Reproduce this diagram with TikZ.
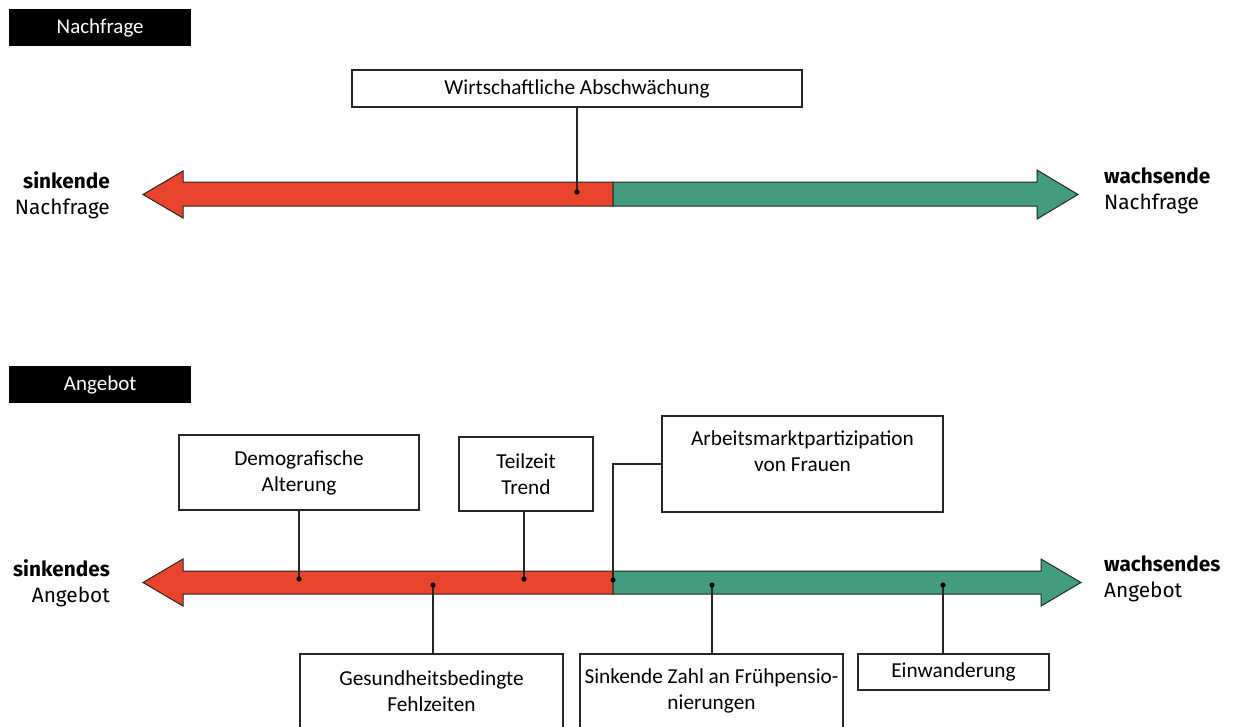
\documentclass[tikz,border=0pt]{standalone}
\usepackage{fontspec}
\setmainfont{Carlito}
\newfontfamily\sidefont{Fira Sans}
\definecolor{redA}{HTML}{E8452C}
\definecolor{greenA}{HTML}{439C7E}
\begin{document}
\begin{tikzpicture}[x=1pt,y=-1pt,
  box/.style={draw=black!85, line width=1.2pt, fill=white, align=center, inner sep=0pt,
    font=\fontsize{21.3}{26}\selectfont},
  hdr/.style={fill=black, text=white, inner sep=0pt, minimum width=182pt, minimum height=37pt,
    anchor=north west, font=\fontsize{21}{24}\selectfont},
  side/.style={inner sep=0pt, font=\sidefont\fontsize{20.8}{26}\selectfont},
  conn/.style={draw=black!85, line width=1.3pt},
  arr/.style={draw=black!85, line width=1pt, line join=miter},
  dotc/.style={fill=black}]
\useasboundingbox (0,0) rectangle (1236,726);

% headers
\node[hdr] (h1) at (9,9) {Nachfrage};
\node[hdr] (h2) at (9,366) {Angebot};

% ---- Nachfrage arrow
\filldraw[arr, fill=redA] (613,182) -- (183,182) -- (183,171) -- (143,194.5) -- (183,218) -- (183,206) -- (613,206) -- cycle;
\filldraw[arr, fill=greenA] (613,182) -- (1037,182) -- (1037,170) -- (1078,194.5) -- (1037,219) -- (1037,206) -- (613,206) -- cycle;

\node[side, anchor=east, align=right] (sl1) at (110,195) {\textbf{sinkende}\\Nachfrage};
\node[side, anchor=west, align=left] (sr1) at (1104,190.5) {\textbf{wachsende}\\Nachfrage};

\node[box, minimum width=450pt, minimum height=37pt] (w) at (577,88.5) {Wirtschaftliche Abschwächung};
\coordinate (d1) at (577,192);
\draw[conn] (w.south) -- (d1);
\fill[dotc] (d1) circle (2.6);

% ---- Angebot arrow
\filldraw[arr, fill=redA] (613,571) -- (183,571) -- (183,559) -- (143,582.5) -- (183,606) -- (183,594) -- (613,594) -- cycle;
\filldraw[arr, fill=greenA] (613,571) -- (1041,571) -- (1041,559) -- (1081,582.5) -- (1041,606) -- (1041,594) -- (613,594) -- cycle;

\node[side, anchor=east, align=right] (sl2) at (110,583) {\textbf{sinkendes}\\Angebot};
\node[side, anchor=west, align=left] (sr2) at (1104,579) {\textbf{wachsendes}\\Angebot};

% boxes above
\node[box, minimum width=240pt, minimum height=75pt] (demo) at (299,472.5) {Demografische\\Alterung};
\node[box, minimum width=134pt, minimum height=74pt] (teil) at (526,474) {Teilzeit\\Trend};
\node[box, minimum width=281pt, minimum height=96pt] (arb) at (802.5,464) {};
\node[inner sep=0pt, align=center, font=\fontsize{21.3}{26}\selectfont] (arbt) at (802.5,451) {Arbeitsmarktpartizipation\\von Frauen};

% boxes below
\node[box, minimum width=263pt, minimum height=74pt] (ges) at (431.5,691) {Gesundheitsbedingte\\Fehlzeiten};
\node[box, minimum width=263pt, minimum height=74pt] (fru) at (711.5,691) {Sinkende Zahl an Frühpensio-\\nierungen};
\node[box, minimum width=191pt, minimum height=36pt] (ein) at (953.5,672) {Einwanderung};

% dots
\coordinate (d2) at (299,579);
\coordinate (d3) at (524,579);
\coordinate (d4) at (613,580);
\coordinate (d5) at (433,585);
\coordinate (d6) at (712,585);
\coordinate (d7) at (943,585);

\draw[conn] (demo.south) -- (d2);
\draw[conn] (teil.south -| d3) -- (d3);
\draw[conn] (arb.west) -| (d4);
\draw[conn] (ges.north -| d5) -- (d5);
\draw[conn] (fru.north -| d6) -- (d6);
\draw[conn] (ein.north -| d7) -- (d7);

\foreach \d in {d2,d3,d4,d5,d6,d7} \fill[dotc] (\d) circle (2.6);
\end{tikzpicture}
\end{document}
